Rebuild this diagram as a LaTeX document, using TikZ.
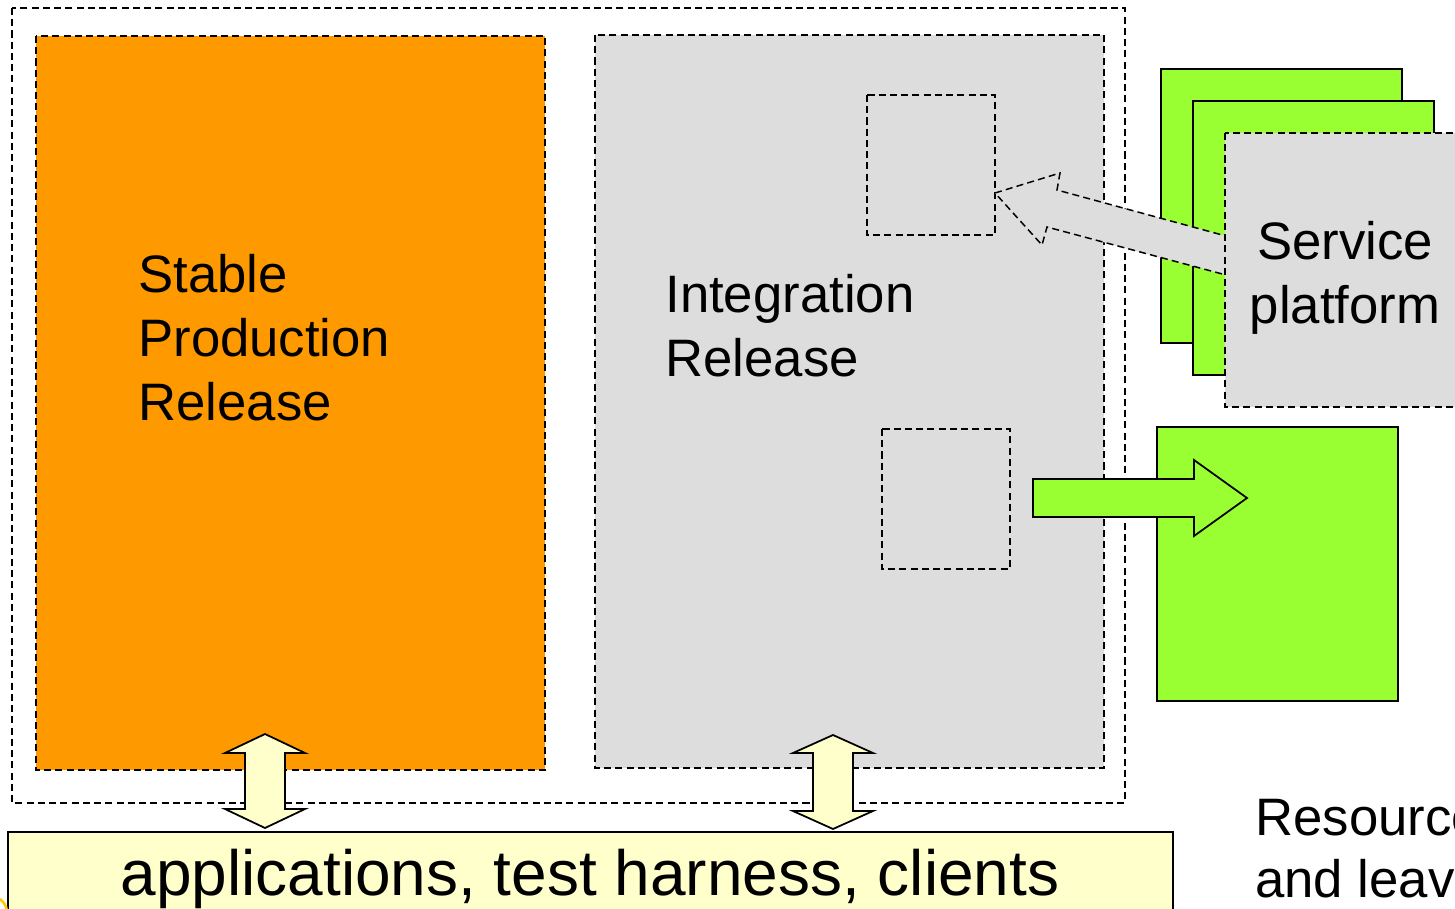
\documentclass[tikz,border=0pt]{standalone}
\usepackage{fontspec}
\setmainfont{Liberation Sans}
\definecolor{orng}{HTML}{FF9900}
\definecolor{gry}{HTML}{DDDDDD}
\definecolor{grn}{HTML}{99FF33}
\definecolor{ylw}{HTML}{FFFFCC}
\definecolor{gold}{HTML}{FFCC00}
\begin{document}
\begin{tikzpicture}[x=0.02cm,y=-0.02cm,
  dsh/.style={draw=black,line width=0.85pt,dash pattern=on 4pt off 2.4pt},
  sld/.style={draw=black,line width=1pt},
  lbl/.style={inner sep=0pt,align=left,font=\fontsize{30}{36.3}\selectfont},
  big/.style={inner sep=0pt,font=\fontsize{36.4}{43}\selectfont}]
\useasboundingbox (0,0) rectangle (1455,909);
\clip (0,0) rectangle (1455,909);
\fill[white] (0,0) rectangle (1455,909);
% outer frame
\draw[dsh,fill=white] (12,8) rectangle (1125,803);
% main releases
\draw[dsh,fill=orng] (36,36) rectangle (545,770);
\draw[dsh,fill=gry] (595,35) rectangle (1104,768);
% small boxes
\draw[dsh] (867,95) rectangle (995,235);
\draw[dsh] (882,429) rectangle (1010,569);
% green stack
\draw[sld,fill=grn] (1161,69) rectangle (1402,343);
\draw[sld,fill=grn] (1193,101) rectangle (1434,375);
\draw[sld,fill=grn] (1157,427) rectangle (1398,701);
% gray block arrow into upper small box
\draw[dsh,fill=gry] (995,193) -- (1060,173) -- (1057,190) -- (1226,236)
  -- (1226,275) -- (1047,227) -- (1042,245) -- cycle;
% service platform box
\draw[dsh,fill=gry] (1225,133) rectangle (1470,407);
% green arrow out of lower small box
\draw[sld,fill=grn] (1033,479) -- (1194,479) -- (1194,460) -- (1247,498)
  -- (1194,536) -- (1194,517) -- (1033,517) -- cycle;
% yellow double arrows
\draw[sld,fill=ylw] (265,734) -- (305,753) -- (285,753) -- (285,809) -- (305,809)
  -- (265,828) -- (225,809) -- (245,809) -- (245,753) -- (225,753) -- cycle;
\draw[sld,fill=ylw] (833,735) -- (873,753) -- (853,753) -- (853,811) -- (873,811)
  -- (833,829) -- (793,811) -- (813,811) -- (813,753) -- (793,753) -- cycle;
% bottom box
\draw[sld,fill=ylw] (8,832) rectangle (1173,930);
\draw[gold,line width=1.5pt] (0,899) to[bend left=20] (7,911);
% texts (base anchor = baseline of last line)
\node[lbl,anchor=base west] (stable) at (138,420) {Stable\\Production\\Release};
\node[lbl,anchor=base west] (integ) at (665,376) {Integration\\Release};
\node[lbl,anchor=base,align=center] (svc) at (1345,323) {Service\\platform};
\node[big,anchor=base] (apps) at (590,895) {applications, test harness, clients};
\node[lbl,anchor=base west,font=\fontsize{30}{35}\selectfont] (res) at (1255,897) {Resources\\and leave};
\end{tikzpicture}
\end{document}
